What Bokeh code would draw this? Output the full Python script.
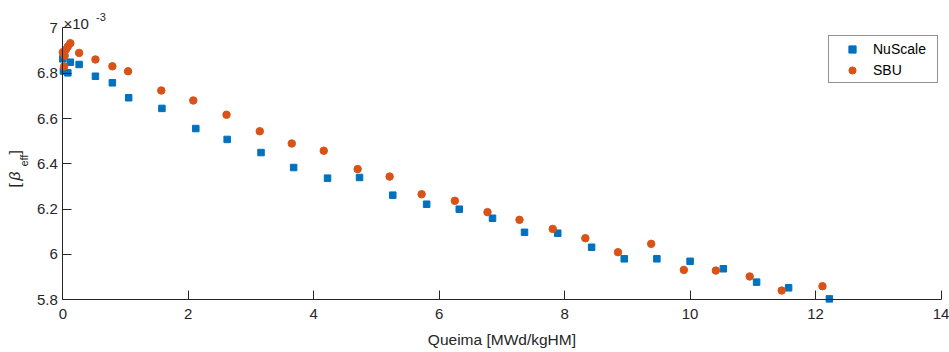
import numpy as np
from bokeh.plotting import figure
from bokeh.models import Range1d, Label, Legend, LegendItem, FixedTicker
from bokeh.embed import file_html
from bokeh.resources import INLINE

# ---- data ----
nuscale_x = [0.0, 0.01, 0.08, 0.12, 0.26, 0.52, 0.79, 1.05, 1.58, 2.12, 2.62, 3.16, 3.68, 4.22,
             4.73, 5.26, 5.80, 6.32, 6.85, 7.36, 7.89, 8.43, 8.95, 9.47, 10.00, 10.53, 11.06,
             11.57, 12.22]
nuscale_y = [6.864, 6.810, 6.802, 6.849, 6.839, 6.787, 6.758, 6.692, 6.645, 6.556, 6.508, 6.450,
             6.384, 6.337, 6.340, 6.262, 6.222, 6.200, 6.160, 6.098, 6.094, 6.032, 5.981, 5.981,
             5.970, 5.937, 5.878, 5.853, 5.804]
sbu_x = [0.0, 0.02, 0.03, 0.05, 0.08, 0.12, 0.26, 0.52, 0.79, 1.04, 1.57, 2.08, 2.61, 3.14, 3.65,
         4.16, 4.70, 5.21, 5.72, 6.25, 6.77, 7.28, 7.81, 8.33, 8.85, 9.38, 9.90, 10.41, 10.95,
         11.46, 12.11]
sbu_y = [6.893, 6.830, 6.878, 6.905, 6.918, 6.933, 6.890, 6.861, 6.831, 6.809, 6.724, 6.680,
         6.617, 6.544, 6.490, 6.458, 6.377, 6.344, 6.266, 6.237, 6.187, 6.153, 6.113, 6.072,
         6.010, 6.047, 5.932, 5.929, 5.903, 5.841, 5.860]
series_names = ["NuScale", "SBU"]
x_ticks = [0, 2, 4, 6, 8, 10, 12, 14]
y_ticks = [5.8, 6.0, 6.2, 6.4, 6.6, 6.8, 7.0]
y_tick_labels = ["5.8", "6", "6.2", "6.4", "6.6", "6.8", "7"]
x_label = "Queima [MWd/kgHM]"

BLUE = "#0072BD"
ORANGE = "#D95319"
AX = "#262626"
FONT = "Liberation Sans"

W, H = 949, 352
# frame fills the canvas; axes are pinned at x=0 / y=5.8
p = figure(width=W, height=H, output_backend="svg", toolbar_location=None,
           x_range=Range1d(-0.9932, 14.135), y_range=Range1d(5.5673, 7.1214),
           min_border_left=0, min_border_right=0, min_border_top=0, min_border_bottom=0)
p.outline_line_color = None
p.xgrid.visible = False
p.ygrid.visible = False
p.background_fill_color = "white"
p.border_fill_color = "white"

r1 = p.scatter(nuscale_x, nuscale_y, marker="square", size=6.5, fill_color=BLUE, line_color=BLUE)
r2 = p.scatter(sbu_x, sbu_y, marker="circle", size=7.5, fill_color=ORANGE, line_color=ORANGE)

for ax in (p.xaxis[0], p.yaxis[0]):
    ax.axis_line_color = AX
    ax.axis_line_width = 1
    ax.major_tick_line_color = AX
    ax.major_tick_in = 9
    ax.major_tick_out = 0
    ax.minor_tick_line_color = None
    ax.major_label_text_font = FONT
    ax.major_label_text_font_size = "15px"
    ax.major_label_text_color = AX

p.xaxis[0].ticker = FixedTicker(ticks=x_ticks)
p.yaxis[0].ticker = FixedTicker(ticks=y_ticks)
p.yaxis[0].major_label_overrides = {t: s for t, s in zip(y_ticks, y_tick_labels)}
p.xaxis[0].fixed_location = 5.8
p.yaxis[0].fixed_location = 0.0
p.xaxis[0].bounds = (0, 14)
p.yaxis[0].bounds = (5.8, 7.0)
p.xaxis[0].major_label_standoff = 9
p.yaxis[0].major_label_standoff = 5

# x axis label
p.add_layout(Label(x=7.0, y=5.6247, text=x_label, text_align="center", text_baseline="middle",
                   text_font=FONT, text_font_size="15.5px", text_color=AX))

# y axis label  [beta_eff]
ylab_x = -0.770
p.add_layout(Label(x=ylab_x, y=6.296, text="[", angle=np.pi / 2, text_align="left",
                   text_baseline="middle", text_font=FONT, text_font_size="15.5px", text_color=AX))
p.add_layout(Label(x=ylab_x, y=6.327, text="β", angle=np.pi / 2, text_align="left",
                   text_baseline="middle", text_font=FONT, text_font_style="italic",
                   text_font_size="15.5px", text_color=AX))
p.add_layout(Label(x=-0.619, y=6.388, text="eff", angle=np.pi / 2, text_align="left",
                   text_baseline="middle", text_font=FONT, text_font_size="11px", text_color=AX))
p.add_layout(Label(x=ylab_x, y=6.441, text="]", angle=np.pi / 2, text_align="left",
                   text_baseline="middle", text_font=FONT, text_font_size="15.5px", text_color=AX))

# exponent label x10^-3
p.add_layout(Label(x=0.011, y=7.0177, text="×10", text_align="left", text_baseline="alphabetic",
                   text_font=FONT, text_font_size="15px", text_color=AX))
p.add_layout(Label(x=0.529, y=7.0477, text="-3", text_align="left", text_baseline="alphabetic",
                   text_font=FONT, text_font_size="11px", text_color=AX))

legend = Legend(items=[LegendItem(label=series_names[0], renderers=[r1]),
                       LegendItem(label=series_names[1], renderers=[r2])],
                location=(828, 269), padding=3, spacing=2,
                glyph_width=40, glyph_height=18, label_height=19, label_width=61,
                label_standoff=1, label_text_font=FONT, label_text_font_size="14px",
                label_text_color="black", border_line_color=AX, border_line_width=1,
                background_fill_color="white", background_fill_alpha=1)
p.add_layout(legend)

open("out.html", "w").write(file_html(p, INLINE))
